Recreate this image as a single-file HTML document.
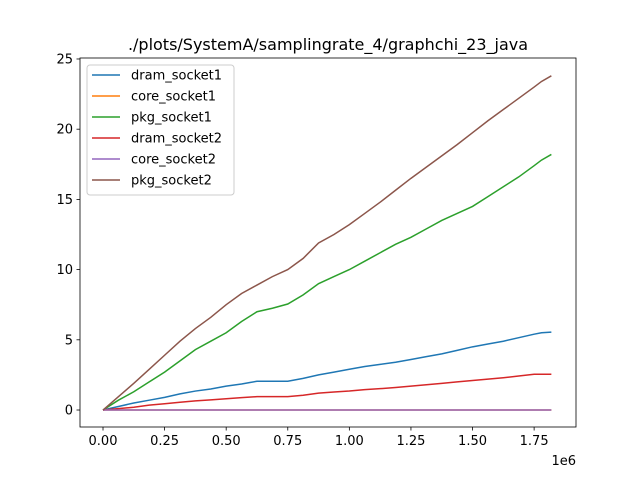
<!DOCTYPE html>
<html><head><meta charset="utf-8"><style>
body{margin:0;background:#fff}
svg{font-family:"DejaVu Sans","Liberation Sans",sans-serif}
</style></head><body>
<svg id="chart" width="640" height="480"></svg>
<script>
const xVals=[0,0.0625,0.125,0.1875,0.25,0.3125,0.375,0.4375,0.5,0.5625,0.625,0.6875,0.75,0.8125,0.875,0.9375,1.0,1.0625,1.125,1.1875,1.25,1.3125,1.375,1.4375,1.5,1.5625,1.625,1.6875,1.75,1.78,1.82];
const dramSocket1=[0,0.25,0.5,0.7,0.9,1.15,1.35,1.5,1.7,1.85,2.05,2.05,2.05,2.25,2.5,2.7,2.9,3.1,3.25,3.4,3.6,3.8,4.0,4.25,4.5,4.7,4.9,5.15,5.4,5.5,5.55];
const coreSocket1=xVals.map(()=>0);
const pkgSocket1=[0,0.7,1.3,2.0,2.7,3.5,4.3,4.9,5.5,6.3,7.0,7.25,7.55,8.2,9.0,9.5,10.0,10.6,11.2,11.8,12.3,12.9,13.5,14.0,14.5,15.2,15.9,16.6,17.4,17.8,18.2];
const dramSocket2=[0,0.1,0.2,0.35,0.45,0.55,0.65,0.72,0.8,0.88,0.95,0.95,0.95,1.05,1.2,1.28,1.35,1.45,1.52,1.6,1.7,1.8,1.9,2.0,2.1,2.2,2.3,2.42,2.55,2.55,2.55];
const coreSocket2=xVals.map(()=>0);
const pkgSocket2=[0,0.95,1.9,2.9,3.9,4.9,5.8,6.6,7.5,8.3,8.9,9.5,10.0,10.8,11.9,12.5,13.2,14.0,14.8,15.65,16.5,17.3,18.1,18.9,19.75,20.6,21.4,22.2,23.0,23.4,23.8];
const seriesNames=["dram_socket1","core_socket1","pkg_socket1","dram_socket2","core_socket2","pkg_socket2"];
const seriesData=[dramSocket1,coreSocket1,pkgSocket1,dramSocket2,coreSocket2,pkgSocket2];
const xTicks=[0,0.25,0.5,0.75,1.0,1.25,1.5,1.75];
const xTickLabels=["0.00","0.25","0.50","0.75","1.00","1.25","1.50","1.75"];
const yTicks=[0,5,10,15,20,25];
const colors=["#1f77b4","#ff7f0e","#2ca02c","#d62728","#9467bd","#8c564b"];
const L=80,R=576,T=58,B=427;
const xMin=-0.0934,xMax=1.92,yMin=-1.21,yMax=25.07;
const sx=v=>L+(v-xMin)/(xMax-xMin)*(R-L);
const sy=v=>B-(v-yMin)/(yMax-yMin)*(B-T);
const svg=document.getElementById('chart');
const NS="http://www.w3.org/2000/svg";
function mk(t,a){const e=document.createElementNS(NS,t);for(const k in a)e.setAttribute(k,a[k]);svg.appendChild(e);return e;}
const title=mk('text',{x:(L+R)/2,y:50,'text-anchor':'middle','font-size':16});
title.textContent="./plots/SystemA/samplingrate_4/graphchi_23_java";


seriesData.forEach((d,i)=>{
  const p=mk('polyline',{points:d.map((v,j)=>sx(xVals[j])+','+sy(v)).join(' '),fill:'none',stroke:colors[i],'stroke-width':1.5});
  
  
});
const frame=mk('rect',{x:L,y:T,width:R-L,height:B-T,fill:'none',stroke:'#000','stroke-width':0.8});


xTicks.forEach((v,i)=>{
  mk('line',{x1:sx(v),x2:sx(v),y1:B,y2:B+3.5,stroke:'#000','stroke-width':0.8});
  const t=mk('text',{x:sx(v),y:B+18,'text-anchor':'middle','font-size':13});
  t.textContent=xTickLabels[i];
  
  
});
yTicks.forEach(v=>{
  mk('line',{x1:L-3.5,x2:L,y1:sy(v),y2:sy(v),stroke:'#000','stroke-width':0.8});
  const t=mk('text',{x:L-7,y:sy(v)+4.5,'text-anchor':'end','font-size':13});
  t.textContent=v;
  
  
});
const off=mk('text',{x:R,y:B+38,'text-anchor':'end','font-size':13});
off.textContent="1e6";


const lg=mk('rect',{x:87,y:65,width:147,height:130,rx:3,fill:'#fff','fill-opacity':0.8,stroke:'#ccc'});


seriesNames.forEach((n,i)=>{
  const y=75+i*21;
  mk('line',{x1:92,x2:120,y1:y,y2:y,stroke:colors[i],'stroke-width':1.5});
  const t=mk('text',{x:131,y:y+4.5,'font-size':13});
  t.textContent=n;
  
  
});
</script>
</body></html>
